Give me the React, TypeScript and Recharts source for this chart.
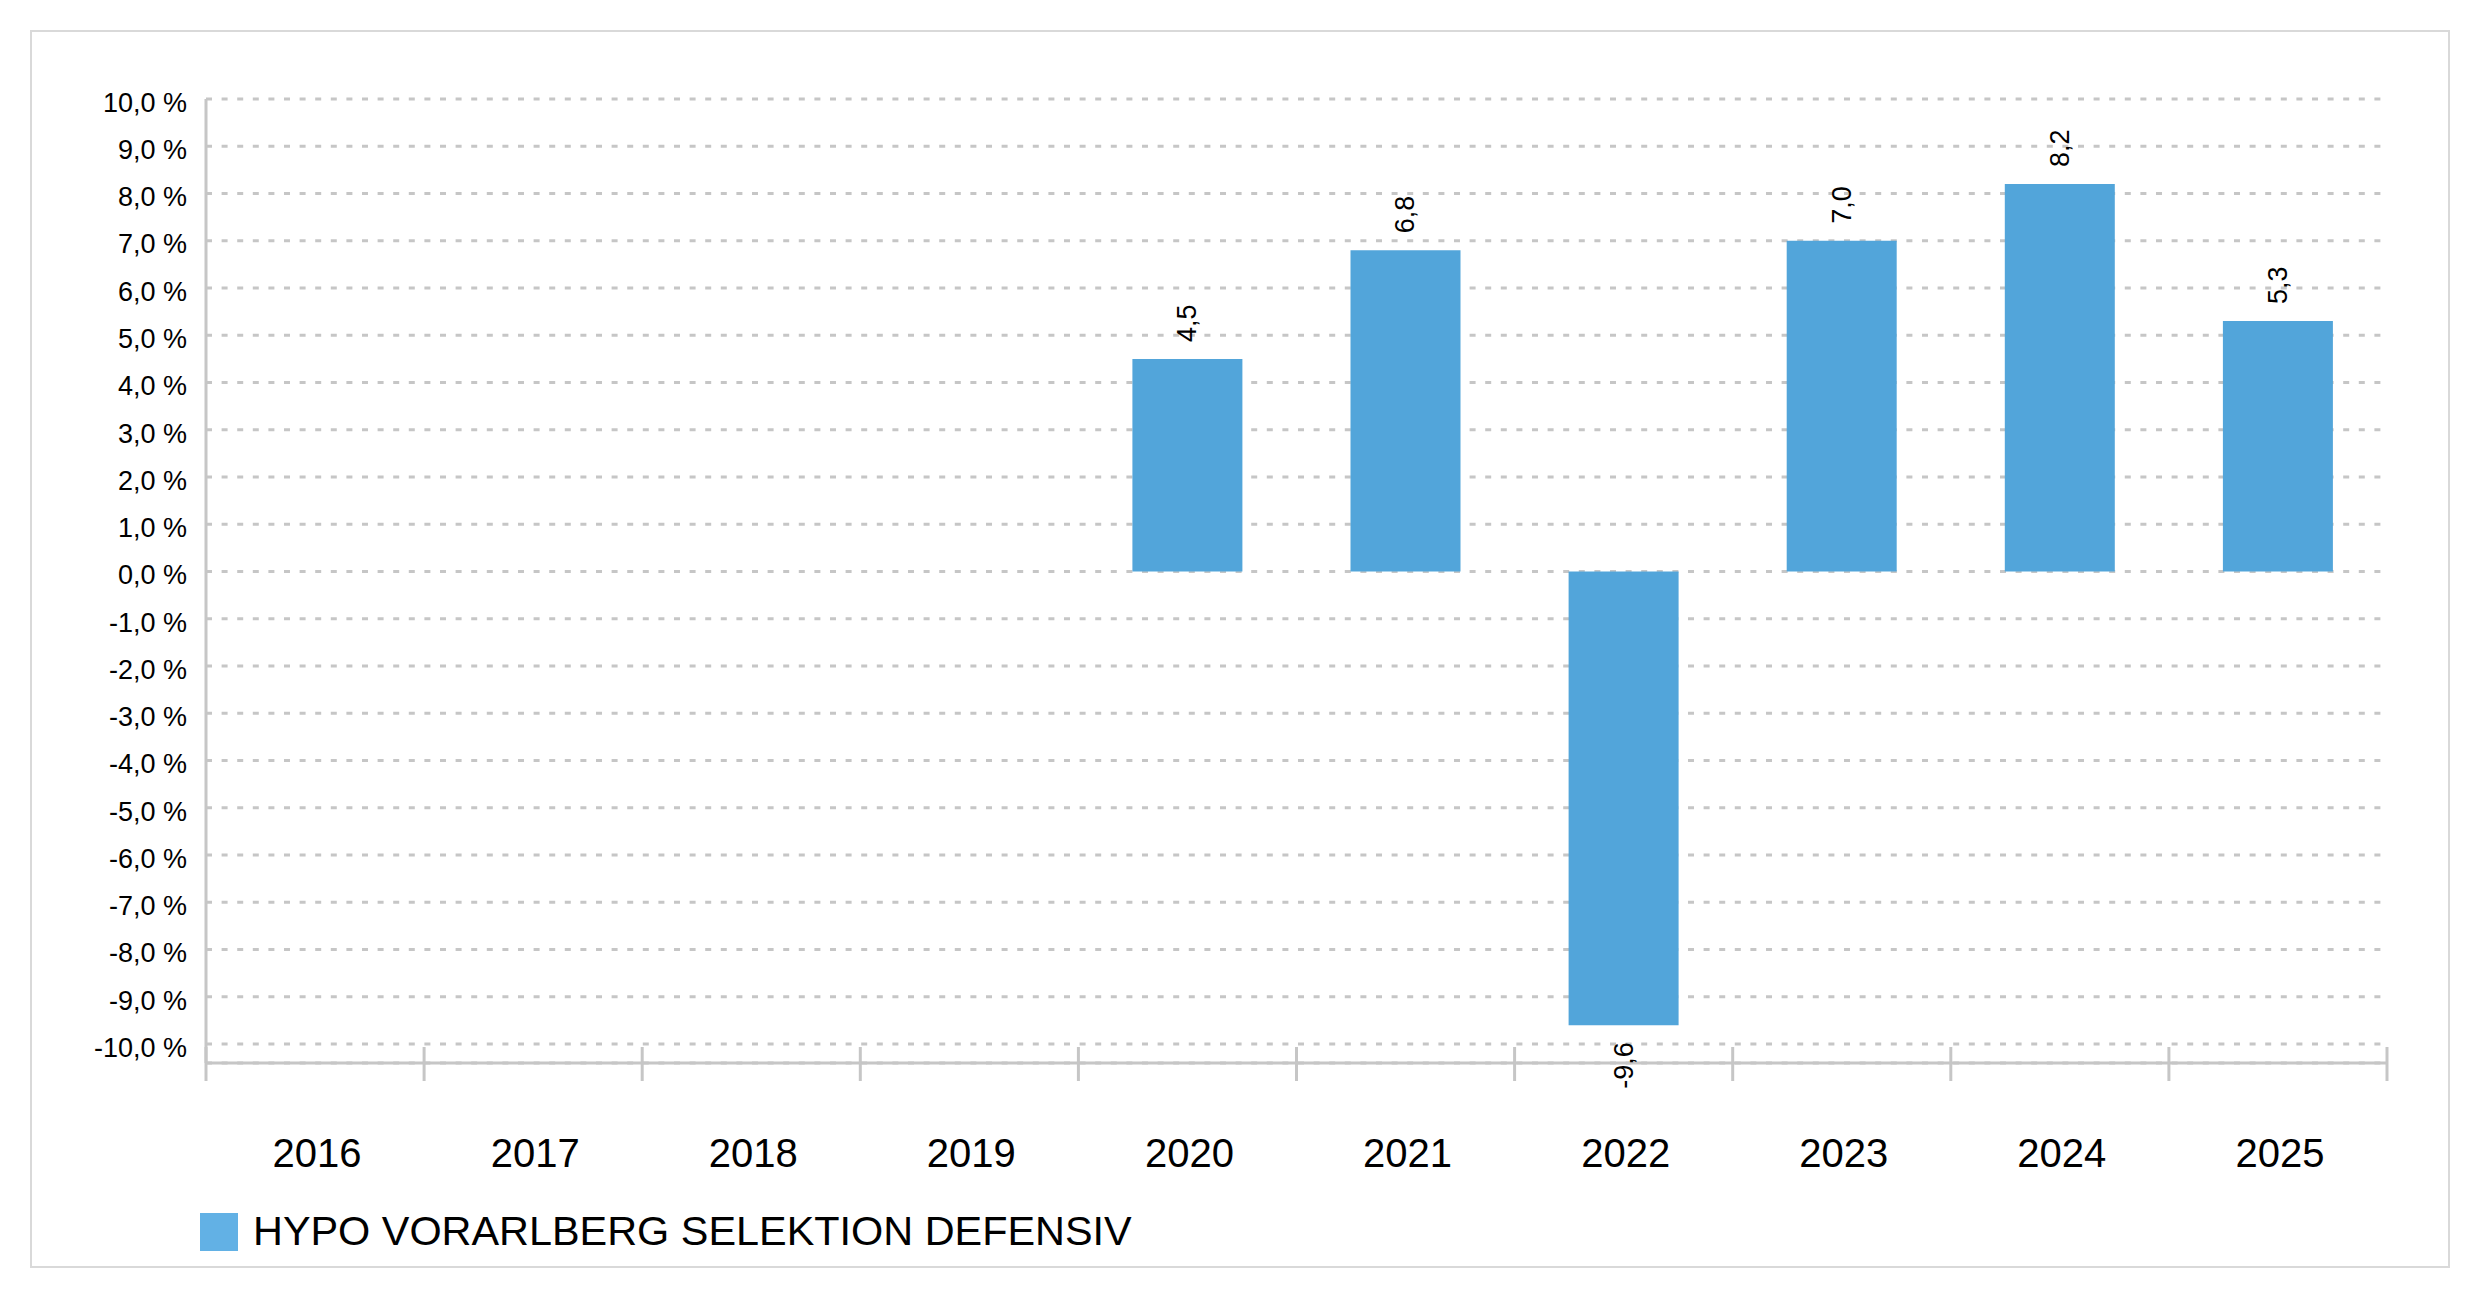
import { BarChart, Bar, XAxis, YAxis, CartesianGrid, LabelList } from "recharts";

const YEARS = ["2016", "2017", "2018", "2019", "2020", "2021", "2022", "2023", "2024", "2025"];
const RETURNS: (number | null)[] = [null, null, null, null, 4.5, 6.8, -9.6, 7.0, 8.2, 5.3];
const Y_TICKS = [-10, -9, -8, -7, -6, -5, -4, -3, -2, -1, 0, 1, 2, 3, 4, 5, 6, 7, 8, 9, 10];
const SERIES_NAME = "HYPO VORARLBERG SELEKTION DEFENSIV";

const data = YEARS.map((year, i) => ({ year, value: RETURNS[i] }));

const W = 2480;
const H = 1299;
const MARGIN = { top: 99, right: 93, bottom: 106, left: 86 };
const Y_AXIS_W = 120;
const X_AXIS_H = 130;
const PLOT_W = W - MARGIN.left - Y_AXIS_W - MARGIN.right;
const BAND = PLOT_W / YEARS.length;

const FONT = "'Liberation Sans', Arial, sans-serif";
const BAR_COLOR = "#52a5da";
const AXIS_COLOR = "#c6c6c6";

const fmt = (v: number) => v.toFixed(1).replace(".", ",");

function YTick(props: any) {
  const { x, y, payload } = props;
  return (
    <text
      x={x}
      y={y + 3}
      dy="0.36em"
      textAnchor="end"
      fontSize={27}
      fontFamily={FONT}
      fill="#000"
    >
      {fmt(payload.value) + " %"}
    </text>
  );
}

function XTick(props: any) {
  const { x, y, payload, index } = props;
  const half = payload?.offset || BAND / 2;
  const last = index === YEARS.length - 1;
  return (
    <g>
      <line x1={x - half} x2={x - half} y1={y - 16} y2={y + 18} stroke={AXIS_COLOR} strokeWidth={3} />
      {last && (
        <line x1={x + half} x2={x + half} y1={y - 16} y2={y + 18} stroke={AXIS_COLOR} strokeWidth={3} />
      )}
      <text x={x + 2} y={y + 104} textAnchor="middle" fontSize={40} fontFamily={FONT} fill="#000">
        {payload.value}
      </text>
    </g>
  );
}

function ValueLabel(props: any) {
  const { x, y, width, height, value } = props;
  if (value === null || value === undefined) return null;
  const cx = Number(x) + Number(width) / 2;
  const top = Math.min(Number(y), Number(y) + Number(height));
  const bottom = Math.max(Number(y), Number(y) + Number(height));
  const neg = Number(value) < 0;
  const ty = neg ? bottom + 17 : top - 17;
  return (
    <text
      x={cx}
      y={ty}
      transform={`rotate(-90, ${cx}, ${ty})`}
      textAnchor={neg ? "end" : "start"}
      dominantBaseline="central"
      fontSize={27}
      fontFamily={FONT}
      fill="#000"
    >
      {fmt(Number(value))}
    </text>
  );
}

export default function App() {
  return (
    <div style={{ position: "absolute", left: 0, top: 0, width: W, height: H, background: "#fff", fontFamily: FONT }}>
      <div
        style={{
          position: "absolute",
          left: 30,
          top: 30,
          width: 2416,
          height: 1234,
          border: "2px solid #d9d9d9",
        }}
      />
      <div style={{ position: "absolute", left: 0, top: 0 }}>
        <BarChart width={W} height={H} data={data} margin={MARGIN}>
          <CartesianGrid
            vertical={false}
            stroke={AXIS_COLOR}
            strokeWidth={3}
            strokeDasharray="6 9.6"
          />
          <XAxis
            dataKey="year"
            height={X_AXIS_H}
            interval={0}
            tickSize={0}
            tickMargin={0}
            tickLine={false}
            axisLine={{ stroke: AXIS_COLOR, strokeWidth: 3 }}
            tick={<XTick />}
          />
          <YAxis
            width={Y_AXIS_W}
            domain={[-10.4, 10]}
            ticks={Y_TICKS}
            interval={0}
            allowDataOverflow
            tickSize={0}
            tickMargin={19}
            tickLine={false}
            axisLine={{ stroke: AXIS_COLOR, strokeWidth: 3 }}
            tick={<YTick />}
          />
          <Bar dataKey="value" fill={BAR_COLOR} barSize={110} isAnimationActive={false}>
            <LabelList dataKey="value" content={<ValueLabel />} />
          </Bar>
        </BarChart>
      </div>
      <div
        style={{
          position: "absolute",
          left: 200,
          top: 1205,
          display: "flex",
          alignItems: "center",
          height: 54,
        }}
      >
        <span style={{ display: "inline-block", width: 38, height: 38, background: "#62b1e5" }} />
        <span style={{ marginLeft: 15, fontSize: 41.4, color: "#000", fontFamily: FONT, lineHeight: 1 }}>
          {SERIES_NAME}
        </span>
      </div>
    </div>
  );
}
